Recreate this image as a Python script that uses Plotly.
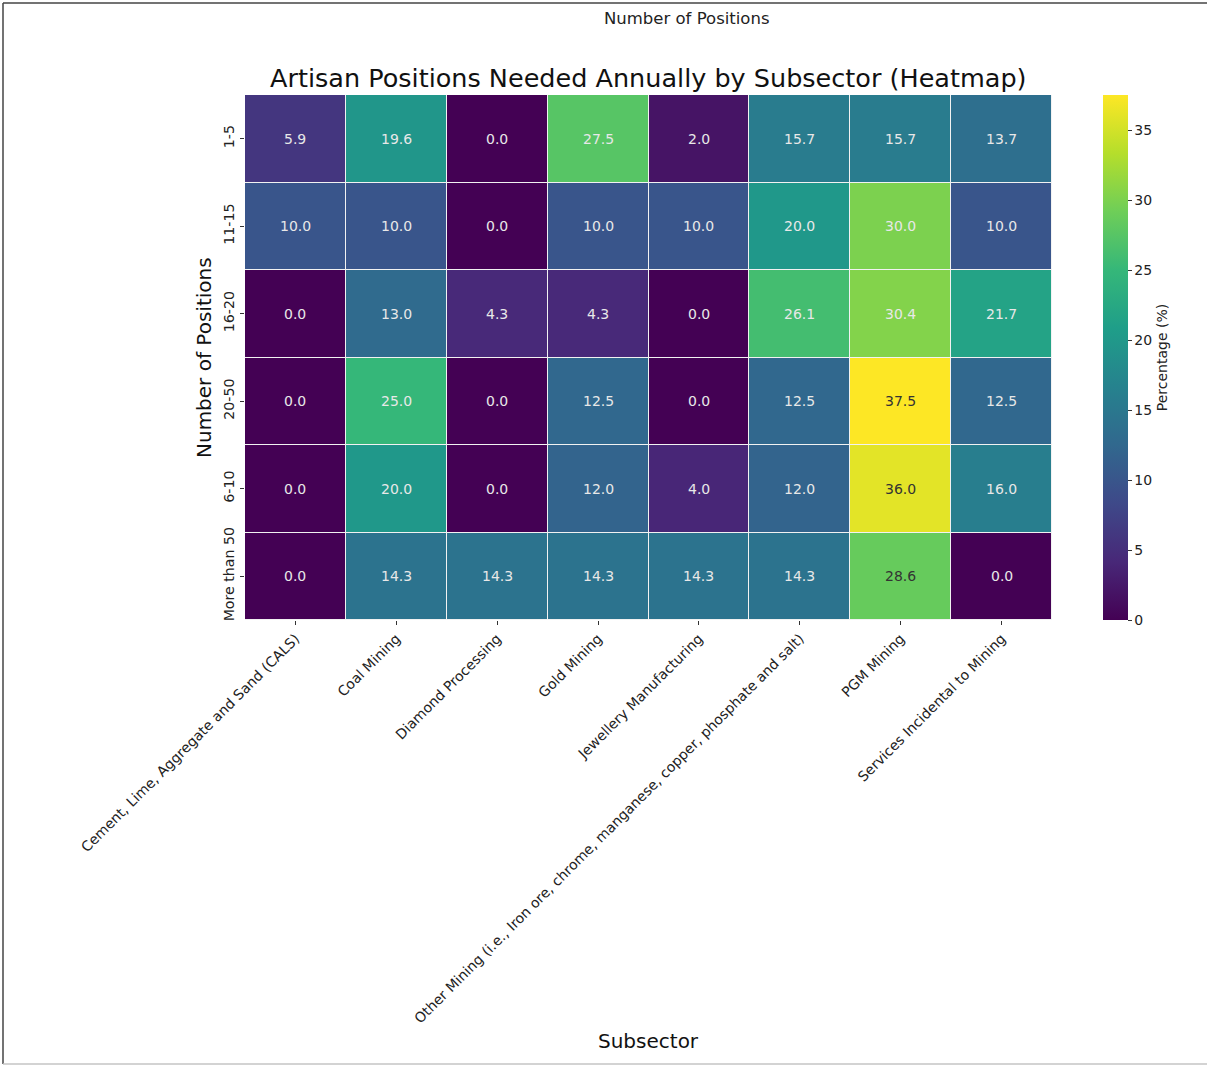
import plotly.graph_objects as go

# Subsectors (columns) and position bands (rows, top to bottom)
subsectors = [
    "Cement, Lime, Aggregate and Sand (CALS)",
    "Coal Mining",
    "Diamond Processing",
    "Gold Mining",
    "Jewellery Manufacturing",
    "Other Mining (i.e., Iron ore, chrome, manganese, copper, phosphate and salt)",
    "PGM Mining",
    "Services Incidental to Mining",
]
position_bands = ["1-5", "11-15", "16-20", "20-50", "6-10", "More than 50"]

# Percentage of respondents per band, one list per row
row_1_5 = [5.9, 19.6, 0.0, 27.5, 2.0, 15.7, 15.7, 13.7]
row_11_15 = [10.0, 10.0, 0.0, 10.0, 10.0, 20.0, 30.0, 10.0]
row_16_20 = [0.0, 13.0, 4.3, 4.3, 0.0, 26.1, 30.4, 21.7]
row_20_50 = [0.0, 25.0, 0.0, 12.5, 0.0, 12.5, 37.5, 12.5]
row_6_10 = [0.0, 20.0, 0.0, 12.0, 4.0, 12.0, 36.0, 16.0]
row_more_50 = [0.0, 14.3, 14.3, 14.3, 14.3, 14.3, 28.6, 0.0]

values = [row_1_5, row_11_15, row_16_20, row_20_50, row_6_10, row_more_50]
colorbar_ticks = [0, 5, 10, 15, 20, 25, 30, 35]

FONT = "DejaVu Sans"
W, H = 1207, 1066
L, R, T, B = 245, 1052, 95, 620  # plot area in pixels


def px_x(x):
    return (x - L) / (R - L)


def px_y(y):
    return (B - y) / (B - T)


zmax = max(max(r) for r in values)

fig = go.Figure(
    go.Heatmap(
        z=values,
        x=subsectors,
        y=position_bands,
        colorscale="Viridis",
        zmin=0,
        zmax=zmax,
        xgap=1,
        ygap=1,
        colorbar=dict(
            title=dict(text="Percentage (%)", side="right",
                       font=dict(family=FONT, size=14, color="#222")),
            x=px_x(1103), xanchor="left", xpad=0,
            y=0.5, yanchor="middle", len=1, lenmode="fraction", ypad=0,
            thickness=25, thicknessmode="pixels",
            outlinewidth=0,
            tickvals=colorbar_ticks,
            ticks="outside", ticklen=4, tickwidth=1, tickcolor="#333",
            tickfont=dict(family=FONT, size=14, color="#222"),
        ),
        hoverinfo="skip",
    )
)

# Cell value labels: dark on the brightest cells, light elsewhere
annotations = []
for ri, band in enumerate(position_bands):
    for ci, sub in enumerate(subsectors):
        v = values[ri][ci]
        dark = v in (28.6, 36.0, 37.5)
        annotations.append(dict(
            x=sub, y=band, text=f"{v:.1f}", showarrow=False,
            font=dict(family=FONT, size=14,
                      color="#333333" if dark else "#e8e8e8"),
        ))

annotations += [
    dict(text="Artisan Positions Needed Annually by Subsector (Heatmap)",
         xref="paper", yref="paper", x=px_x(648), y=px_y(78),
         xanchor="center", yanchor="middle", showarrow=False,
         font=dict(family=FONT, size=25.5, color="#111")),
    dict(text="Number of Positions",
         xref="paper", yref="paper", x=px_x(687), y=px_y(19),
         xanchor="center", yanchor="middle", showarrow=False,
         font=dict(family=FONT, size=16.5, color="#222")),
    dict(text="Number of Positions",
         xref="paper", yref="paper", x=px_x(204), y=px_y(358),
         xanchor="center", yanchor="middle", showarrow=False, textangle=-90,
         font=dict(family=FONT, size=20, color="#111")),
    dict(text="Subsector",
         xref="paper", yref="paper", x=px_x(648), y=px_y(1041),
         xanchor="center", yanchor="middle", showarrow=False,
         font=dict(family=FONT, size=20, color="#111")),
]

# Thin frame around the figure
shapes = [
    dict(type="line", xref="paper", yref="paper",
         x0=px_x(3), x1=px_x(1207), y0=px_y(3), y1=px_y(3),
         line=dict(color="#444", width=1.5)),
    dict(type="line", xref="paper", yref="paper",
         x0=px_x(3), x1=px_x(3), y0=px_y(3), y1=px_y(1064),
         line=dict(color="#444", width=1.5)),
    dict(type="line", xref="paper", yref="paper",
         x0=px_x(3), x1=px_x(1207), y0=px_y(1064), y1=px_y(1064),
         line=dict(color="#c4c4c4", width=1.5)),
]

fig.update_layout(
    width=W, height=H,
    margin=dict(l=L, r=W - R, t=T, b=H - B, pad=0),
    paper_bgcolor="white", plot_bgcolor="#f2f2f2",
    annotations=annotations, shapes=shapes,
    xaxis=dict(
        tickangle=-45, ticks="outside", ticklen=4, tickcolor="#333",
        tickfont=dict(family=FONT, size=14, color="#222"),
        showgrid=False, zeroline=False, showline=False,
    ),
    yaxis=dict(
        autorange="reversed", tickangle=-90, ticks="outside", ticklen=4,
        tickcolor="#333", tickfont=dict(family=FONT, size=14.2, color="#222"),
        showgrid=False, zeroline=False, showline=False,
    ),
    showlegend=False,
)

fig.write_html("out.html")
